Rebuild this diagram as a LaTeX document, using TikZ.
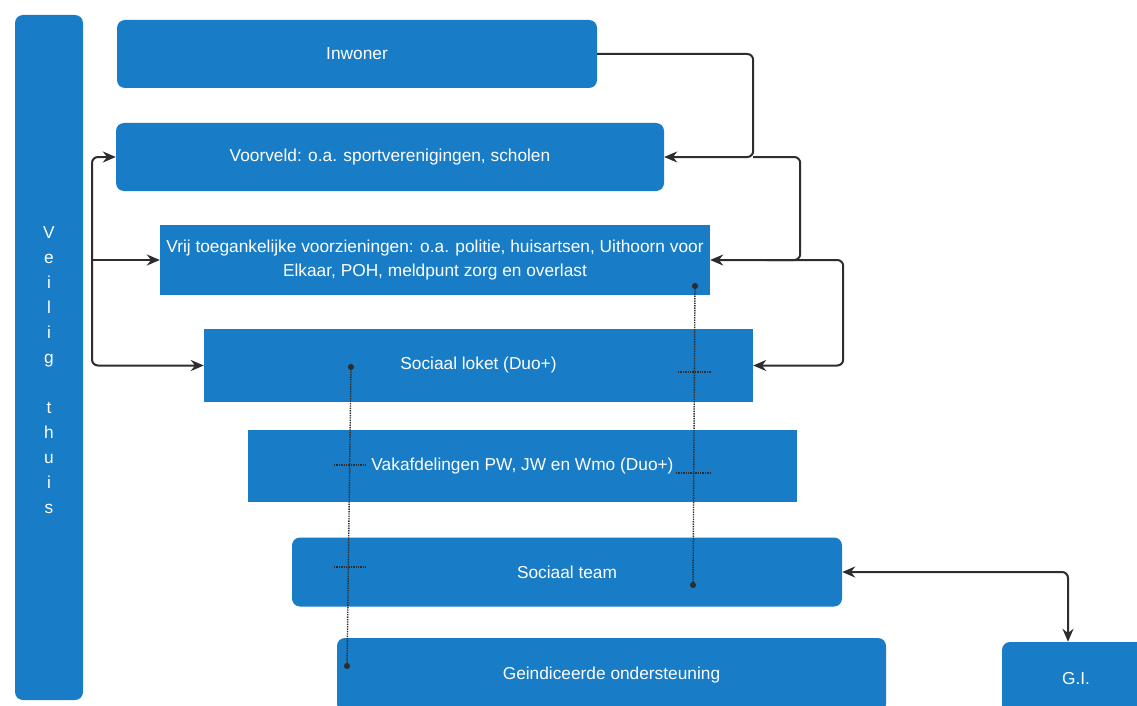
\documentclass[tikz,border=0pt]{standalone}
\usepackage{fontspec}
\setmainfont{Liberation Sans}
\usetikzlibrary{arrows.meta}

\definecolor{blauw}{RGB}{24,124,198}
\definecolor{lijn}{RGB}{45,45,45}

\tikzset{
  hoek/.style={fill=blauw, text=white, inner sep=0pt, align=center,
    font=\fontsize{17.3}{24}\selectfont},
  rond/.style={hoek, rounded corners=8pt},
  pijl/.style={draw=lijn, line width=2pt, rounded corners=6pt,
    -{Stealth[length=13pt,width=11pt]}},
  tweepijl/.style={pijl, {Stealth[length=13pt,width=11pt]}-{Stealth[length=13pt,width=11pt]}},
  stip/.style={draw=lijn, line width=1.4pt, densely dotted},
  stipdot/.style={stip, {Circle[length=6pt]}-{Circle[length=6pt]}}
}

\begin{document}
\begin{tikzpicture}[x=1pt,y=-1pt]

	% Kader
	\clip (0,0) rectangle (1137,706);
	\fill[white] (0,0) rectangle (1137,706);

	% Balk links
	\node[rond, minimum width=68, minimum height=685, font=\fontsize{17.3}{25}\selectfont] (veilig) at (49,357.5)
		{\mbox{}\\[13pt]V\\e\\i\\l\\i\\g\\[25pt]t\\h\\u\\i\\s};

	% Blokken
	\node[rond, minimum width=480, minimum height=68] (inwoner) at (357,54) {Inwoner};
	\node[rond, minimum width=548, minimum height=68] (voorveld) at (390,157) {Voorveld: o.a. sportverenigingen, scholen};
	\node[hoek, minimum width=550, minimum height=70] (vrij) at (435,260)
		{Vrij toegankelijke voorzieningen: o.a. politie, huisartsen, Uithoorn voor\\Elkaar, POH, meldpunt zorg en overlast};
	\node[hoek, minimum width=549, minimum height=73] (loket) at (478.5,365.5) {Sociaal loket (Duo+)};
	\node[hoek, minimum width=549, minimum height=72] (vakafd) at (522.5,466) {Vakafdelingen PW, JW en Wmo (Duo+)};
	\node[rond, minimum width=550, minimum height=69] (team) at (567,572) {Sociaal team};
	\node[rond, minimum width=549, minimum height=74] (geind) at (611.5,675) {Geindiceerde ondersteuning};
	\node[rond, minimum width=148, minimum height=74] (gi) at (1076,679) {G.I.};

	% Pijlen rechts
	\draw[pijl] (inwoner.east) -- ++(156,0) |- (voorveld.east);
	\draw[pijl] ([xshift=89pt]voorveld.east) -- ++(47,0) |- (vrij.east);
	\draw[pijl] ([xshift=57pt]vrij.east) -- ++(76,0) |- (loket.east);
	\draw[tweepijl] (team.east) -| ([xshift=-8pt]gi.north);

	% Pijlen links
	\coordinate (splits) at (92,260);
	\draw[pijl] (splits) |- (voorveld.west);
	\draw[pijl] (splits) -- (vrij.west);
	\draw[pijl] (splits) |- (loket.west);

	% Stippellijnen
	\coordinate (links boven) at (351,364);
	\coordinate (links onder) at (347,669);
	\coordinate (rechts boven) at (695,283);
	\coordinate (rechts onder) at (693,588);
	\draw[stipdot] (links boven) -- (links onder);
	\draw[stipdot] (rechts boven) -- (rechts onder);

	% Streepjes
	\draw[stip] (678,372) -- (711,372);
	\draw[stip] (334,465) -- (366,465);
	\draw[stip] (676,473) -- (711,473);
	\draw[stip] (334,567) -- (366,567);

\end{tikzpicture}
\end{document}
